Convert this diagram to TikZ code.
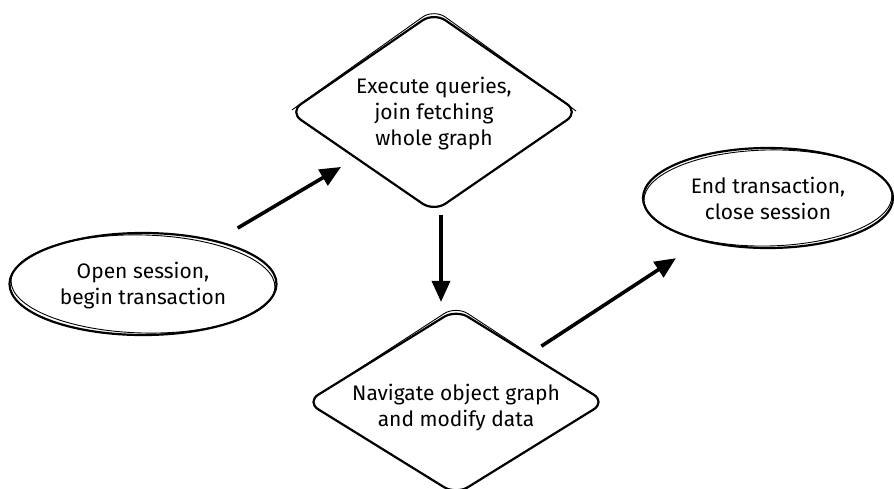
\documentclass[tikz,border=0pt]{standalone}
\usepackage{fontspec}
\setmainfont{Fira Sans}
\usetikzlibrary{shapes.geometric,arrows.meta,calc}
\begin{document}
\begin{tikzpicture}[x=1pt,y=-1pt,
  sketch/.style={draw=black, line width=2.2pt, fill=white, inner sep=0pt},
  lbl/.style={align=center, inner sep=0pt, font=\fontsize{21}{26}\selectfont},
  oval/.style={sketch, ellipse},
  rhomb/.style={sketch, diamond, rounded corners=14pt},
  arr/.style={line width=3.6pt, -{Triangle[length=21pt,width=18pt]}},
  ghost/.style={draw=black, line width=0.9pt}]
\useasboundingbox (0,0) rectangle (894,488);

% shapes
\node[oval, minimum width=267pt, minimum height=102pt,
      label={[lbl, yshift=-2pt]center:{Open session,\\begin transaction}}] (open) at (143,284) {};
\node[rhomb, minimum width=290pt, minimum height=200pt,
      label={[lbl, yshift=-2pt]center:{Execute queries,\\join fetching\\whole graph}}] (exec) at (434,112) {};
\node[rhomb, minimum width=300pt, minimum height=186pt,
      label={[lbl, yshift=-6pt]center:{Navigate object graph\\and modify data}}] (nav) at (456,402) {};
\node[oval, minimum width=250pt, minimum height=100pt,
      label={[lbl]center:{End transaction,\\close session}}] (end) at (768,198) {};

% sketchy second strokes
\draw[ghost, rotate around={-1.5:(open.center)}] (open.center) ellipse [x radius=132pt, y radius=49pt];
\draw[ghost, rotate around={1.2:(end.center)}] (end.center) ellipse [x radius=124pt, y radius=48pt];
\draw[ghost, rounded corners=14pt] ($(exec.west)+(4,-2)$) -- ($(exec.north)+(0,-2)$) -- ($(exec.east)+(-4,-1)$);
\draw[ghost, rounded corners=14pt] ($(nav.west)+(40,-24)$) -- ($(nav.north)+(0,-2)$) -- ($(nav.east)+(-50,-30)$);

% connectors
\draw[arr] ($(open)!110pt!(exec)$) -- ($(exec)!108pt!(open)$);
\draw[arr] ($(exec.south)+(7,2)$) -- ($(nav.north)+(-15,-6)$);
\draw[arr] ($(nav)!102pt!(end)$) -- ($(end)!110pt!(nav)$);
\end{tikzpicture}
\end{document}
